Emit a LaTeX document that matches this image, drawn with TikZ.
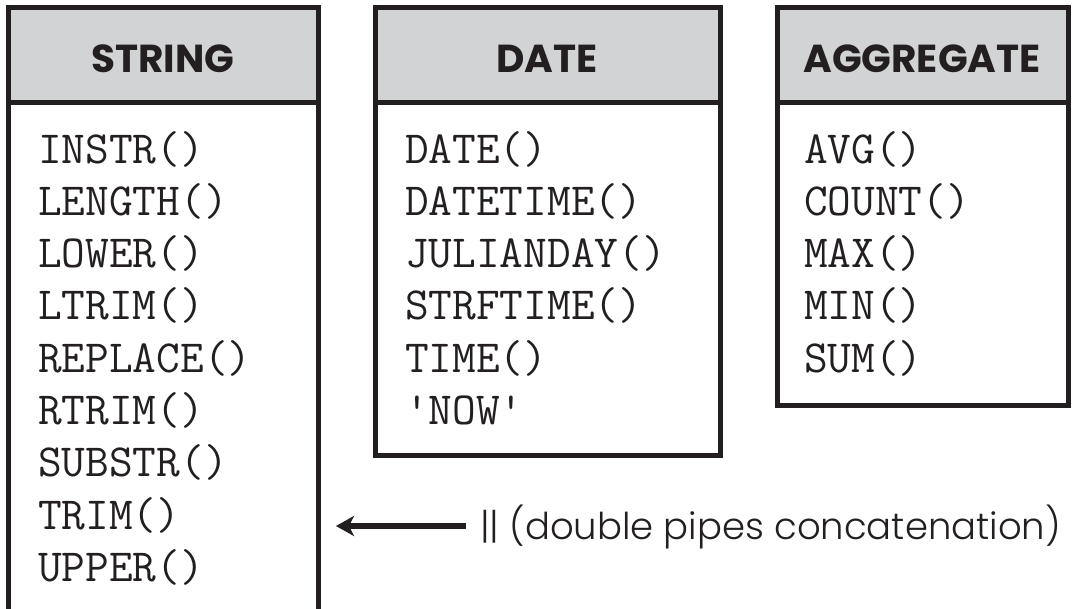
\documentclass[tikz,border=0pt]{standalone}
\usepackage{fontspec}
\usetikzlibrary{arrows.meta}
\newfontfamily\headfont{Poppins}
\newfontfamily\notefont{Poppins}[UprightFont={* Light}]
\definecolor{headgray}{HTML}{D1D3D4}
\definecolor{ink}{HTML}{231F20}

\begin{document}
\begin{tikzpicture}[x=1pt,y=-1pt,
  head/.style={anchor=base,inner sep=0pt,text=ink,font=\headfont\bfseries\fontsize{39}{39}\selectfont},
  fn/.style={anchor=base west,inner sep=0pt,text=ink,font=\ttfamily\fontsize{46}{46}\selectfont},
  frame/.style={draw=ink,line width=5pt}]
\useasboundingbox (0,0) rectangle (1073,608);
% header bands
\fill[headgray] (8,7) rectangle (318,102) (375,7) rectangle (720,102) (777,7) rectangle (1068,102);
% boxes
\draw[frame] (8,612) -- (8,7) -- (318,7) -- (318,612) (8,102) -- (318,102);
\draw[frame] (375,7) rectangle (720,455) (375,102) -- (720,102);
\draw[frame] (777,7) rectangle (1068,405) (777,102) -- (1068,102);
% titles
\node[head] (string) at (163,72) {STRING};
\node[head] (date) at (547,72) {DATE};
\node[head] (aggregate) at (922,72) {AGGREGATE};
% function lists
\foreach \f [count=\i] in {INSTR(),LENGTH(),LOWER(),LTRIM(),REPLACE(),RTRIM(),SUBSTR(),TRIM(),UPPER()}
	\node[fn] (s\i) at (38,{163+52.3*(\i-1)}) {\f};
\foreach \f [count=\i] in {DATE(),DATETIME(),JULIANDAY(),STRFTIME(),TIME(),'NOW'}
	\node[fn] (d\i) at (405,{163+52.3*(\i-1)}) {\f};
\foreach \f [count=\i] in {AVG(),COUNT(),MAX(),MIN(),SUM()}
	\node[fn] (a\i) at (804,{163+52.3*(\i-1)}) {\f};
% concatenation note
\node[anchor=base west,inner sep=0pt,text=ink,font=\notefont\fontsize{37}{37}\selectfont] (concat) at (480,539) {|| (double pipes concatenation)};
\coordinate (tip) at (336,526);
\draw[ink,line width=5.5pt,shorten <=14pt,-{Stealth[length=18pt,width=20pt,inset=5pt]}] (concat.west |- tip) -- (tip);
\end{tikzpicture}
\end{document}
